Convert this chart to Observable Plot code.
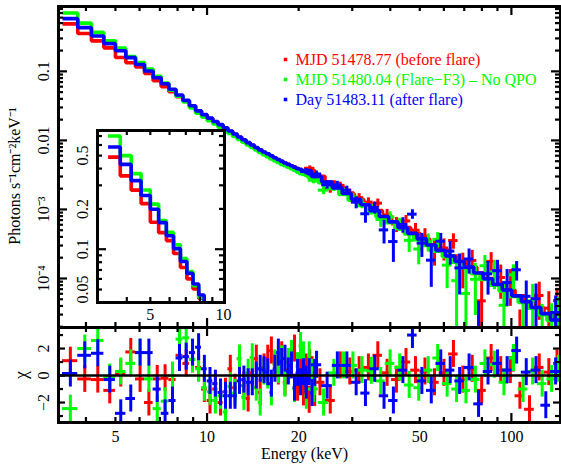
<!DOCTYPE html>
<html>
<head>
<meta charset="utf-8">
<script src="https://cdn.jsdelivr.net/npm/d3@7"></script>
<script src="https://cdn.jsdelivr.net/npm/@observablehq/plot@0.6"></script>
<style>
  body { margin: 0; background: #fff; }
  #chart { position: relative; width: 561px; height: 464px; background: #fff;
           font-family: "Liberation Serif", "Times New Roman", serif; }
  #chart svg { position: absolute; overflow: visible; }
  #chart svg text { font-family: "Liberation Serif", "Times New Roman", serif; }
</style>
</head>
<body>
<div id="chart"></div>
<script>
// ---- PCA channel grid (keV), shared by the three observations ----
const pcaEdges = [3.35, 3.76, 4.17, 4.58, 5.00, 5.41, 5.82, 6.23, 6.65, 7.07, 7.49, 7.91, 8.33, 8.75, 9.17, 9.59,
  10.01, 10.44, 10.86, 11.29, 11.71, 12.14, 12.57, 13.00, 13.43, 13.86, 14.30, 14.73, 15.17, 15.61, 16.05, 16.49,
  16.93, 17.37, 17.81, 18.26, 18.71, 19.16, 19.61, 20.06, 20.51, 20.97, 21.43, 21.89, 22.35, 22.81];

// folded model, photons s^-1 cm^-2 keV^-1, one value per PCA channel
const pcaModelRed = [0.487, 0.353, 0.276, 0.219, 0.159, 0.133, 0.116, 0.093, 0.073, 0.060, 0.0506, 0.0428, 0.0369,
  0.0315, 0.0265, 0.0234, 0.0208, 0.0186, 0.0167, 0.0150, 0.0136, 0.0123, 0.0111, 0.0101, 0.0092, 0.0085, 0.0078,
  0.0072, 0.0067, 0.0063, 0.0059, 0.0055, 0.0052, 0.0050, 0.0047, 0.0045, 0.0043, 0.0041, 0.0039, 0.0037, 0.0036,
  0.0035, 0.0033, 0.0032, 0.0030];
const pcaModelGreen = [0.70, 0.50, 0.367, 0.277, 0.217, 0.164, 0.134, 0.108, 0.085, 0.068, 0.0534, 0.0437, 0.0361,
  0.0296, 0.0247, 0.0217, 0.0193, 0.0173, 0.0155, 0.0140, 0.0126, 0.0114, 0.0103, 0.0094, 0.0086, 0.0079, 0.0073,
  0.0067, 0.0062, 0.0058, 0.0054, 0.0051, 0.0048, 0.0045, 0.0043, 0.0041, 0.0039, 0.0037, 0.0035, 0.0033, 0.0032,
  0.0031, 0.0029, 0.0028, 0.0026];
const pcaModelBlue = [0.58, 0.43, 0.325, 0.252, 0.199, 0.158, 0.126, 0.101, 0.081, 0.066, 0.055, 0.0455, 0.038,
  0.0318, 0.0268, 0.0236, 0.0210, 0.0188, 0.0169, 0.0152, 0.0137, 0.0124, 0.0112, 0.0102, 0.0093, 0.0086, 0.0079,
  0.0073, 0.0068, 0.0064, 0.0060, 0.0056, 0.0053, 0.0050, 0.0047, 0.0045, 0.0043, 0.0041, 0.0039, 0.0038, 0.0036,
  0.0035, 0.0033, 0.0032, 0.0030];

// PCA residuals, (data - model) / sigma
const pcaChiRed = [1.1, -0.25, -0.3, -1.1, 0.15, 1.75, -0.25, -2.0, -0.25, -0.2, -0.3, 1.5, 0.9, 1.2, 0.6, -1.0,
  -1.85, -1.0, -2.0, -1.2, 0.5, -0.9, 1.25, -0.75, -1.7, 0.2, 1.25, -1.25, 0.6, 1.25, 1.85, 0.8, 0.3, 1.5, -0.5,
  0.4, 0.9, 2.0, -0.9, 1.25, -1.25, 0.6, -1.8, 0.4, -1.3];
const pcaChiGreen = [-2.45, 2.0, 2.6, -0.15, 0.3, 0.9, 1.7, -0.25, -2.45, -1.9, 0.0, 2.7, 2.8, 1.2, 0.5, -0.9,
  -1.2, -1.85, -1.5, -2.7, -0.8, -1.3, 1.25, -1.6, 0.2, 1.35, -0.9, -2.0, 0.3, 0.0, -1.25, 0.9, 0.4, 1.2, -0.6,
  1.0, 1.6, -1.0, 0.7, 2.2, 1.5, -1.5, 1.5, 0.2, -0.5];
const pcaChiBlue = [0.15, 1.5, 1.65, -0.3, -2.8, -1.7, 1.7, 1.7, -1.0, -2.8, -1.85, 1.3, 1.4, 1.7, 2.1, 0.5,
  -0.4, -0.6, -1.25, -1.5, -1.5, -1.5, -0.4, -0.3, -0.5, -0.5, 0.0, 0.5, 0.4, 0.25, -0.6, 0.5, 1.7, 1.0, 1.25,
  0.3, 0.75, -0.9, 0.2, -0.5, 0.25, -0.75, 0.25, -1.3, 0.2];

// ---- HEXTE: grouped bins for each observation ----
const hexteEdgesRed = [20.9, 22.6, 24.4, 26.4, 28.4, 30.5, 32.7, 35.1, 37.7, 40.4, 43.4, 46.7, 50.1, 53.9, 57.9,
  62.2, 66.8, 71.7, 77.0, 82.7, 88.9, 95.6, 102.8, 110.5, 118.9, 128.0, 137.5, 145.0];
const hexteModelRed = [3.65e-3, 3.03e-3, 2.5e-3, 2.05e-3, 1.68e-3, 1.4e-3, 1.16e-3, 9.6e-4, 8.0e-4, 6.6e-4, 5.45e-4,
  4.5e-4, 3.75e-4, 3.08e-4, 2.57e-4, 2.12e-4, 1.76e-4, 1.46e-4, 1.2e-4, 9.95e-5, 8.2e-5, 6.8e-5, 5.6e-5, 4.6e-5,
  3.75e-5, 3.03e-5, 2.57e-5];
const hexteRelErrRed = [0.09, 0.10, 0.11, 0.12, 0.13, 0.15, 0.17, 0.19, 0.21, 0.23, 0.25, 0.28, 0.31, 0.34, 0.38,
  0.42, 0.46, 0.50, 0.55, 0.60, 0.65, 0.70, 0.75, 0.80, 0.85, 0.90, 0.95];
const hexteChiRed = [0.9, -0.5, -1.85, 0.75, 0.3, 0.4, 0.6, 1.5, 0.2, -0.3, 1.0, 0.4, 0.3, -0.5, 0.2, 1.6, -0.3,
  0.5, -1.1, 1.3, 0.4, 0.4, -1.5, -2.5, 0.6, 0.25, 0.9];

const hexteEdgesGreen = [21.5, 23.2, 25.1, 27.1, 29.1, 31.2, 33.4, 35.9, 38.5, 41.4, 44.5, 47.8, 51.4, 55.2, 59.3,
  63.7, 68.4, 73.4, 78.9, 84.8, 91.1, 97.9, 105.3, 113.2, 121.7, 130.8, 140.4, 145.0];
const hexteModelGreen = [2.94e-3, 2.44e-3, 2.01e-3, 1.65e-3, 1.36e-3, 1.14e-3, 9.45e-4, 7.8e-4, 6.45e-4, 5.32e-4,
  4.4e-4, 3.66e-4, 3.01e-4, 2.49e-4, 2.07e-4, 1.72e-4, 1.42e-4, 1.18e-4, 9.7e-5, 8.0e-5, 6.6e-5, 5.47e-5, 4.5e-5,
  3.7e-5, 3.0e-5, 2.46e-5, 2.14e-5];
const hexteRelErrGreen = [0.10, 0.11, 0.12, 0.13, 0.15, 0.17, 0.19, 0.21, 0.23, 0.25, 0.27, 0.30, 0.33, 0.37, 0.41,
  0.46, 0.52, 0.58, 0.64, 0.70, 0.76, 0.82, 0.88, 0.94, 1.0, 1.0, 1.0];
const hexteChiGreen = [-1.0, -2.0, 0.2, 0.75, 0.75, 0.4, 0.35, -0.4, 0.9, 0.6, -0.7, -0.9, 0.4, 1.3, -0.6, -1.0,
  -1.1, -0.3, 0.9, 0.8, -0.5, 1.3, -1.0, 0.3, -0.6, -0.25, 0.5];

const hexteEdgesBlue = [20.3, 22.0, 23.8, 25.8, 27.8, 29.8, 32.0, 34.3, 36.8, 39.5, 42.4, 45.6, 49.0, 52.6, 56.5,
  60.7, 65.2, 70.0, 75.2, 80.8, 86.8, 93.3, 100.3, 107.8, 116.0, 125.0, 134.5, 145.0];
const hexteModelBlue = [3.65e-3, 3.0e-3, 2.5e-3, 2.05e-3, 1.7e-3, 1.4e-3, 1.17e-3, 9.6e-4, 7.9e-4, 6.6e-4, 5.45e-4,
  4.5e-4, 3.75e-4, 3.05e-4, 2.55e-4, 2.12e-4, 1.76e-4, 1.46e-4, 1.2e-4, 9.9e-5, 8.2e-5, 6.8e-5, 5.6e-5, 4.6e-5,
  3.8e-5, 3.1e-5, 2.5e-5];
const hexteRelErrBlue = [0.10, 0.11, 0.12, 0.14, 0.16, 0.18, 0.20, 0.22, 0.24, 0.26, 0.28, 0.30, 0.33, 0.36, 0.40,
  0.44, 0.48, 0.52, 0.56, 0.60, 0.65, 0.70, 0.75, 0.80, 0.85, 0.90, 0.95];
const hexteChiBlue = [-0.3, 0.8, -0.75, 0.75, 0.75, -0.5, -1.3, 0.5, -1.5, -1.85, 0.4, 3.0, -0.4, -1.1, 0.9, 0.4,
  -0.4, 0.6, -2.1, 0.3, 0.9, 0.4, 1.85, 0.25, 0.4, -2.2, 0.3];

// ---- legend and axis text ----
const legendLabels = ["MJD 51478.77 (before flare)", "MJD 51480.04 (Flare\u2212F3) \u2013 No QPO", "Day 51483.11 (after flare)"];
const seriesColors = ["#ff0000", "#00ff00", "#0000ff"];

const energyTickLabels = [5, 10, 20, 50, 100];
const energyMinorTicks = [4, 5, 6, 7, 8, 9, 20, 30, 40, 50, 60, 70, 80, 90];
const energyMajorTicks = [10, 100];
const fluxTickValues = [0.1, 0.01, 1e-3, 1e-4];
const fluxTickLabels = ["0.1", "0.01", "10\u207B\u00B3", "10\u207B\u2074"];
const fluxMinorTicks = [2e-5, 3e-5, 4e-5, 5e-5, 6e-5, 7e-5, 8e-5, 9e-5, 2e-4, 3e-4, 4e-4, 5e-4, 6e-4, 7e-4, 8e-4, 9e-4,
  2e-3, 3e-3, 4e-3, 5e-3, 6e-3, 7e-3, 8e-3, 9e-3, 0.02, 0.03, 0.04, 0.05, 0.06, 0.07, 0.08, 0.09, 0.2, 0.3, 0.4, 0.5,
  0.6, 0.7, 0.8];
const chiTickValues = [2, 0, -2];
const chiTickLabels = ["2", "0", "\u22122"];
const chiMinorTicks = [-3, -1, 1, 3];
const insetEnergyTicks = [4, 5, 6, 7, 8, 9];
const insetEnergyLabels = [5, 10];
const insetFluxTickValues = [0.5, 0.2, 0.1, 0.05];
const insetFluxTickLabels = ["0.5", "0.2", "0.1", "0.05"];
const insetFluxMinorTicks = [0.04, 0.05, 0.06, 0.07, 0.08, 0.09, 0.2, 0.3, 0.4, 0.5, 0.6, 0.7];
const insetFluxMajorTicks = [0.1];

// ---- assemble the three observations ----
const series = [
  {color: seriesColors[0], pcaModel: pcaModelRed, pcaChi: pcaChiRed,
   hxEdges: hexteEdgesRed, hxModel: hexteModelRed, hxRelErr: hexteRelErrRed, hxChi: hexteChiRed},
  {color: seriesColors[1], pcaModel: pcaModelGreen, pcaChi: pcaChiGreen,
   hxEdges: hexteEdgesGreen, hxModel: hexteModelGreen, hxRelErr: hexteRelErrGreen, hxChi: hexteChiGreen},
  {color: seriesColors[2], pcaModel: pcaModelBlue, pcaChi: pcaChiBlue,
   hxEdges: hexteEdgesBlue, hxModel: hexteModelBlue, hxRelErr: hexteRelErrBlue, hxChi: hexteChiBlue}
];

// histogram outline of a binned model
function stepPoints(edges, values) {
  return values.flatMap((v, i) => [{e: edges[i], v}, {e: edges[i + 1], v}]);
}
const FLOOR = 1e-7; // keeps non-positive fluxes on the log axis (clipped away by the frame)
function hexteBins(s) {
  return s.hxModel.map((m, i) => {
    const lo = s.hxEdges[i], hi = s.hxEdges[i + 1];
    const sigma = m * s.hxRelErr[i];
    const flux = m + s.hxChi[i] * sigma;   // data = model + chi * sigma
    return {lo, hi, e: (lo + hi) / 2, chi: s.hxChi[i],
      flux: Math.max(flux, FLOOR), f1: Math.max(flux - sigma, FLOOR), f2: Math.max(flux + sigma, FLOOR)};
  });
}
function pcaBins(s) {
  return s.pcaChi.map((c, i) => ({lo: pcaEdges[i], hi: pcaEdges[i + 1], e: (pcaEdges[i] + pcaEdges[i + 1]) / 2, chi: c}));
}

const FONT = '"Liberation Serif", "Times New Roman", serif';
const plotStyle = {fontFamily: FONT, fontSize: "16px", background: "transparent", overflow: "visible", color: "black"};
const TICK_W = 2.2;
const txt = {fontFamily: FONT, fontSize: 16, textAnchor: "middle", lineAnchor: "middle"};

// inward ticks on all four sides of a frame of size fw x fh
function ticksX(values, len, fh) {
  return [
    Plot.ruleX(values, {x: d => d, insetTop: fh - len, stroke: "black", strokeWidth: TICK_W}),
    Plot.ruleX(values, {x: d => d, insetBottom: fh - len, stroke: "black", strokeWidth: TICK_W})
  ];
}
function ticksY(values, len, fw) {
  return [
    Plot.ruleY(values, {y: d => d, insetRight: fw - len, stroke: "black", strokeWidth: TICK_W}),
    Plot.ruleY(values, {y: d => d, insetLeft: fw - len, stroke: "black", strokeWidth: TICK_W})
  ];
}
function crossMarks(data, yKey, y1Key, y2Key, color, width) {
  return [
    Plot.ruleX(data, {x: "e", y1: y1Key, y2: y2Key, stroke: color, strokeWidth: width, clip: true}),
    Plot.ruleY(data, {y: yKey, x1: "lo", x2: "hi", stroke: color, strokeWidth: width, clip: true})
  ];
}

const W = 561;
const ML = 58, MR = 1;
const FW = W - ML - MR;
const energyDomain = [3.25, 145];

// ---- upper panel: unfolded spectra ----
const mainH = 330, mainMT = 6, mainMB = 3;
const mainFH = mainH - mainMT - mainMB;
const mainMarks = [];
series.forEach(s => {
  mainMarks.push(Plot.line(stepPoints(pcaEdges, s.pcaModel), {x: "e", y: "v", stroke: s.color, strokeWidth: 3.6,
    strokeLinejoin: "miter", strokeLinecap: "butt", clip: true}));
  mainMarks.push(Plot.line(stepPoints(s.hxEdges, s.hxModel), {x: "e", y: "v", stroke: s.color, strokeWidth: 3.6,
    strokeLinejoin: "miter", strokeLinecap: "butt", clip: true}));
  mainMarks.push(...crossMarks(hexteBins(s), "flux", "f1", "f2", s.color, 3));
});
legendLabels.forEach((label, i) => {
  mainMarks.push(Plot.dot([label], {frameAnchor: "top-left", dx: 227, dy: 53 + 20 * i, symbol: "square", r: 2,
    fill: seriesColors[i], stroke: null}));
  mainMarks.push(Plot.text([label], {...txt, frameAnchor: "top-left", dx: 237, dy: 53 + 20 * i, text: d => d,
    textAnchor: "start", fill: seriesColors[i]}));
});
mainMarks.push(
  ...ticksX(energyMinorTicks, 5, mainFH), ...ticksX(energyMajorTicks, 9, mainFH),
  ...ticksY(fluxMinorTicks, 5, FW), ...ticksY(fluxTickValues, 9, FW),
  Plot.text(fluxTickValues, {...txt, y: d => d, text: (d, i) => fluxTickLabels[i], frameAnchor: "left", dx: -15, rotate: -90}),
  Plot.text(["Photons s\u207B\u00B9cm\u207B\u00B2keV\u207B\u00B9"], {...txt, frameAnchor: "left", dx: -44, dy: 9, rotate: -90, text: d => d}),
  Plot.frame({stroke: "black", strokeWidth: 3})
);
const mainPlot = Plot.plot({
  width: W, height: mainH, marginLeft: ML, marginRight: MR, marginTop: mainMT, marginBottom: mainMB,
  x: {type: "log", domain: energyDomain, axis: null},
  y: {type: "log", domain: [1.95e-5, 0.87], axis: null},
  style: plotStyle,
  marks: mainMarks
});

// ---- lower panel: residuals ----
const resTop = 300, resH = 164, resMT = 27, resMB = 42;
const resFH = resH - resMT - resMB;
const resMarks = [];
series.forEach(s => {
  resMarks.push(...crossMarks(pcaBins(s).map(d => ({...d, c1: d.chi - 1, c2: d.chi + 1})), "chi", "c1", "c2", s.color, 3));
  resMarks.push(...crossMarks(hexteBins(s).map(d => ({...d, c1: d.chi - 1, c2: d.chi + 1})), "chi", "c1", "c2", s.color, 3));
});
resMarks.push(
  Plot.ruleY([0], {stroke: "black", strokeWidth: 2.5}),
  ...ticksX(energyMinorTicks, 5, resFH), ...ticksX(energyMajorTicks, 9, resFH),
  ...ticksY(chiMinorTicks, 5, FW), ...ticksY(chiTickValues, 7, FW),
  Plot.text(chiTickValues, {...txt, y: d => d, text: (d, i) => chiTickLabels[i], frameAnchor: "left", dx: -15, rotate: -90}),
  Plot.text(["\u03C7"], {...txt, frameAnchor: "left", dx: -37, rotate: -90, text: d => d, fontSize: 18}),
  Plot.text(energyTickLabels, {...txt, x: d => d, text: d => String(d), frameAnchor: "bottom", dy: 14}),
  Plot.text(["Energy (keV)"], {...txt, frameAnchor: "bottom", dx: -5, dy: 31, text: d => d}),
  Plot.frame({stroke: "black", strokeWidth: 3})
);
const resPlot = Plot.plot({
  width: W, height: resH, marginLeft: ML, marginRight: MR, marginTop: resMT, marginBottom: resMB,
  x: {type: "log", domain: energyDomain, axis: null},
  y: {domain: [-3.48, 3.56], axis: null},
  style: plotStyle,
  marks: resMarks
});

// ---- inset: low-energy close-up of the models ----
const inLeft = 60, inTop = 110, inW = 174, inH = 217;
const inML = 37, inMR = 10, inMT = 20, inMB = 25;
const inFW = inW - inML - inMR, inFH = inH - inMT - inMB;
const insetMarks = [Plot.frame({fill: "white", stroke: null})];
series.forEach(s => {
  insetMarks.push(Plot.line(stepPoints(pcaEdges, s.pcaModel), {x: "e", y: "v", stroke: s.color, strokeWidth: 3.6,
    strokeLinejoin: "miter", strokeLinecap: "butt", clip: true}));
});
insetMarks.push(
  ...ticksX(insetEnergyTicks, 5, inFH),
  ...ticksY(insetFluxMinorTicks, 5, inFW), ...ticksY(insetFluxMajorTicks, 9, inFW),
  Plot.text(insetFluxTickValues, {...txt, y: d => d, text: (d, i) => insetFluxTickLabels[i], frameAnchor: "left", dx: -15, rotate: -90}),
  Plot.text(insetEnergyLabels, {...txt, x: d => d, text: d => String(d), frameAnchor: "bottom", dy: 12}),
  Plot.frame({stroke: "black", strokeWidth: 3})
);
const insetPlot = Plot.plot({
  width: inW, height: inH, marginLeft: inML, marginRight: inMR, marginTop: inMT, marginBottom: inMB,
  x: {type: "log", domain: [3.03, 10.1], axis: null},
  y: {type: "log", domain: [0.04, 0.77], axis: null},
  style: plotStyle,
  marks: insetMarks
});

const chart = document.getElementById("chart");
[[mainPlot, 0, 0], [resPlot, 0, resTop], [insetPlot, inLeft, inTop]].forEach(([svg, left, top]) => {
  svg.style.left = left + "px";
  svg.style.top = top + "px";
  svg.style.maxWidth = "none";
  chart.appendChild(svg);
});
</script>
</body>
</html>
